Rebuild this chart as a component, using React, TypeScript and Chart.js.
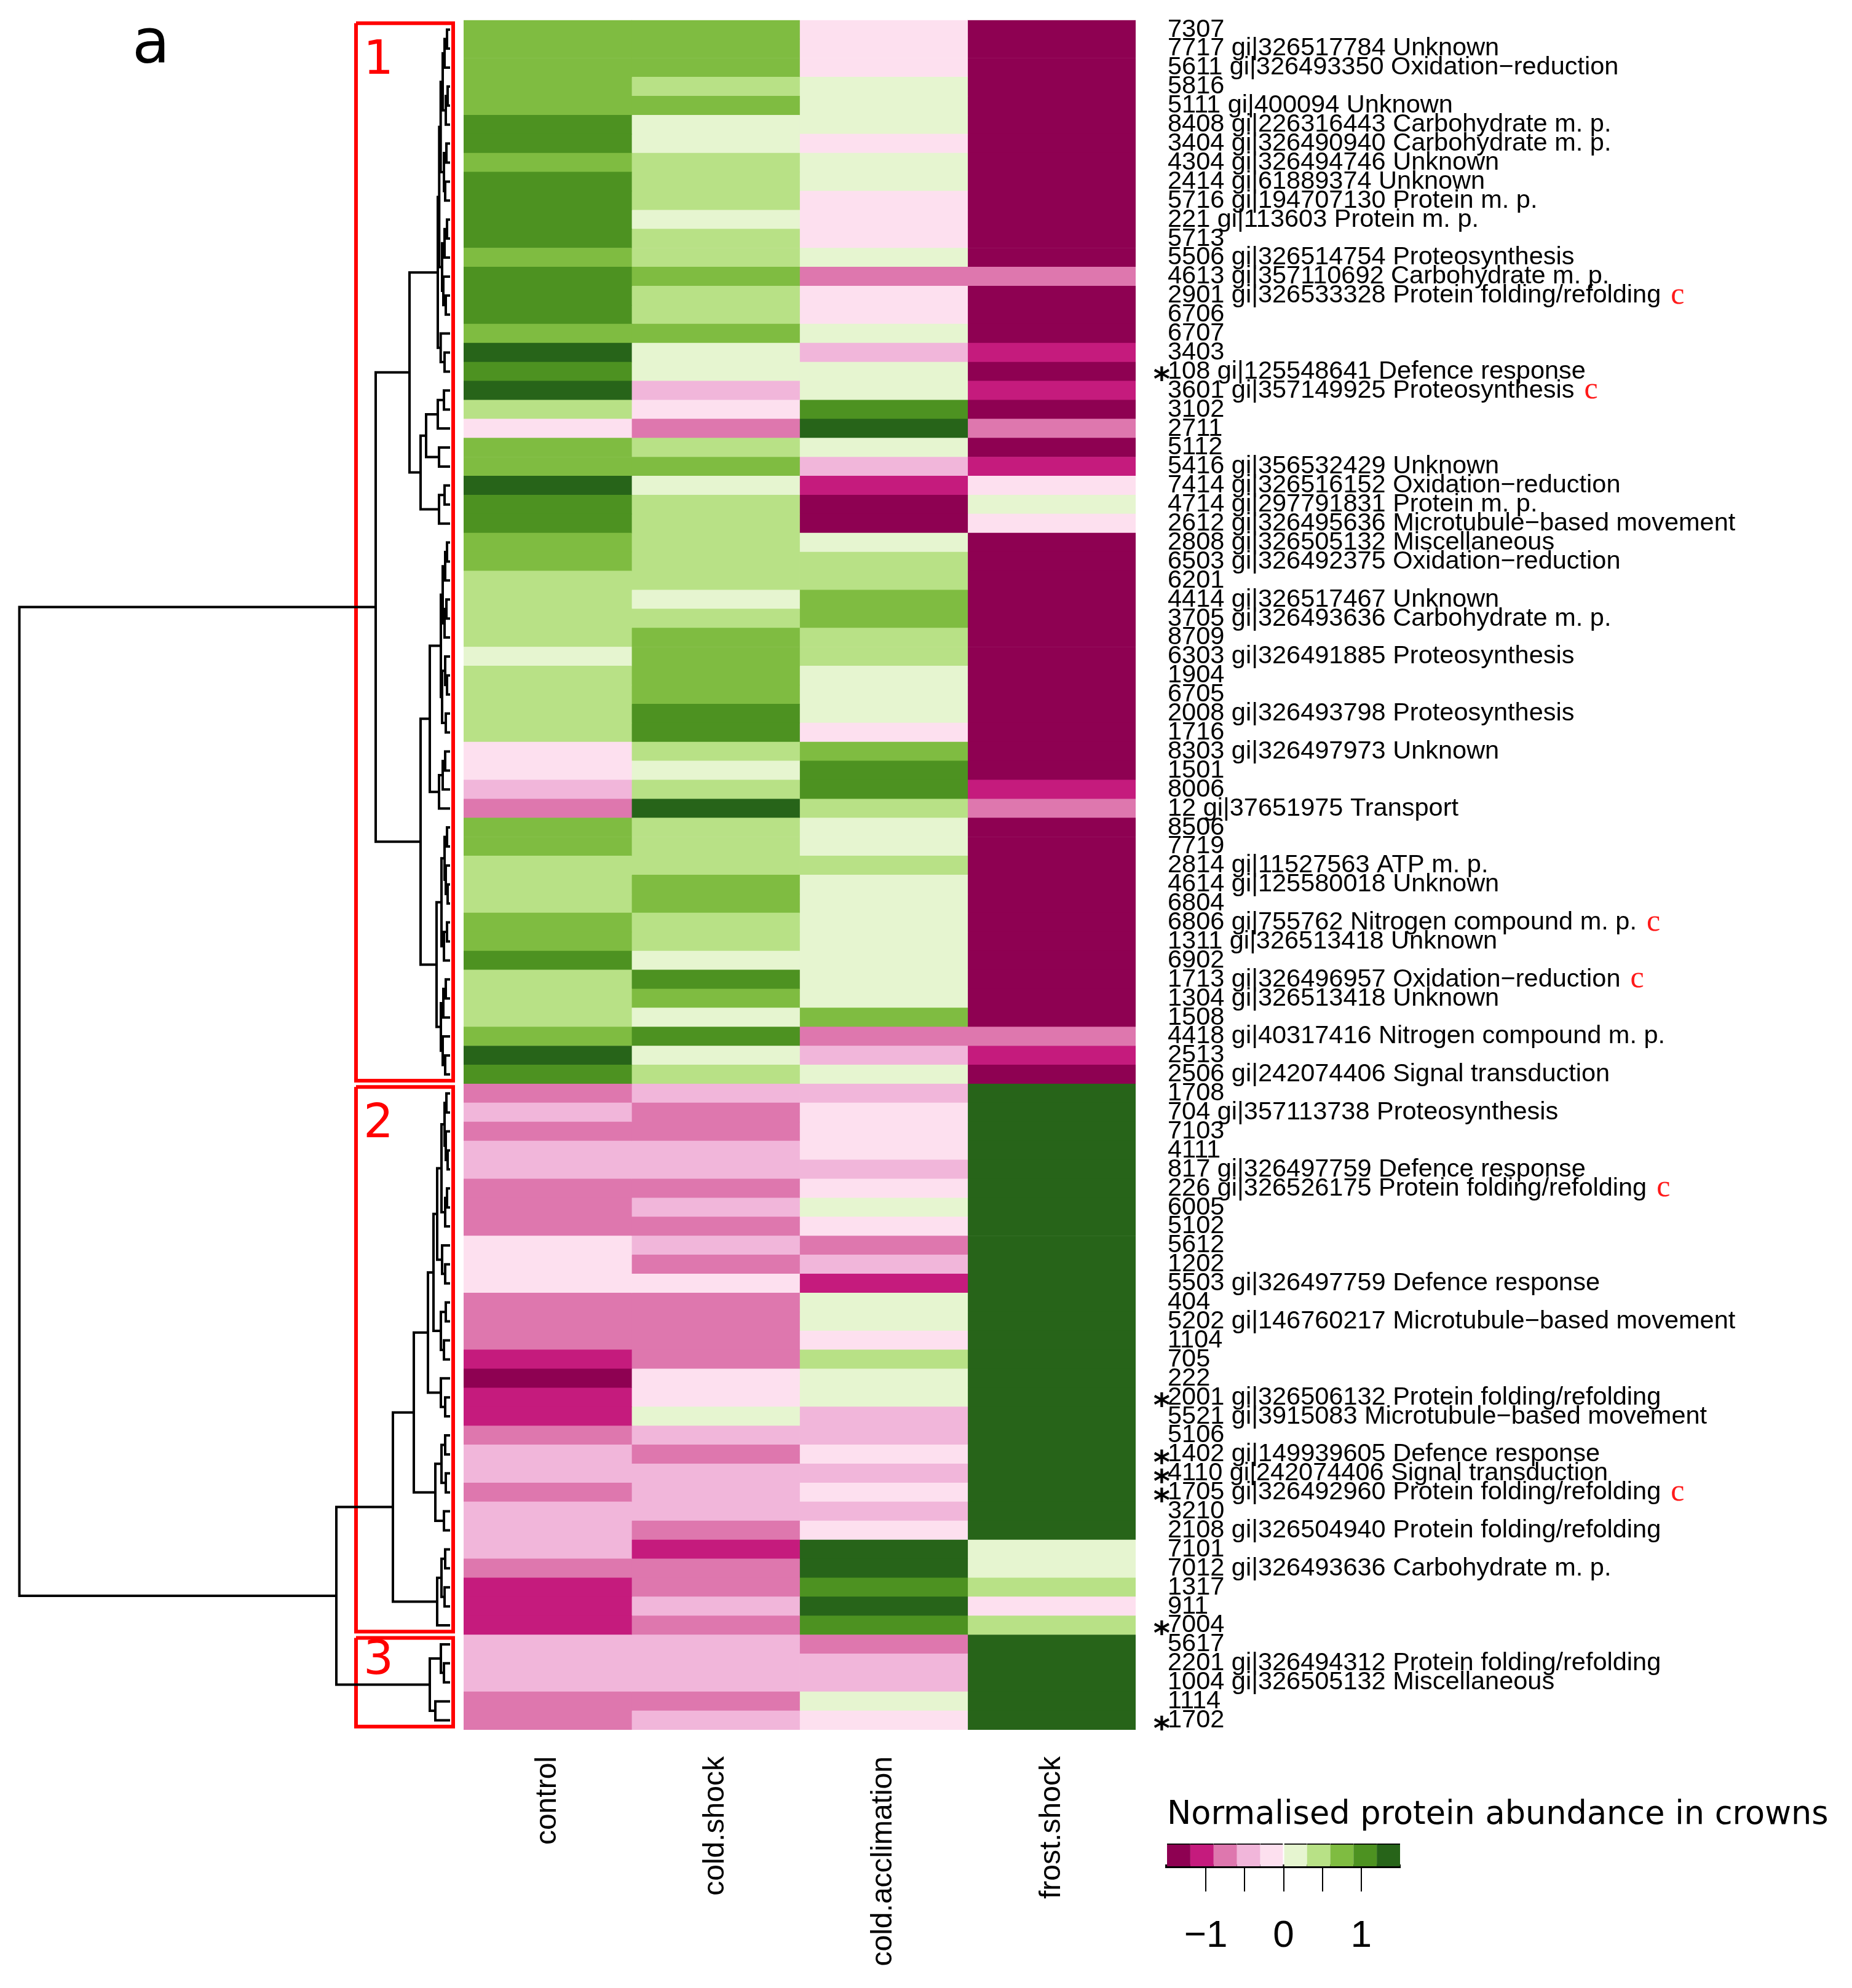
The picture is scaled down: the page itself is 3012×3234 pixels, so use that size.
import React, { useEffect, useRef } from 'react';
import { Chart, registerables } from 'chart.js';
Chart.register(...registerables);

// ---------------- data ----------------
const columns = ['control', 'cold.shock', 'cold.acclimation', 'frost.shock'];

const rowLabels = [
  '7307', '7717 gi|326517784 Unknown', '5611 gi|326493350 Oxidation\u2212reduction', '5816',
  '5111 gi|400094 Unknown', '8408 gi|226316443 Carbohydrate m. p.', '3404 gi|326490940 Carbohydrate m. p.',
  '4304 gi|326494746 Unknown', '2414 gi|61889374 Unknown', '5716 gi|194707130 Protein m. p.',
  '221 gi|113603 Protein m. p.', '5713', '5506 gi|326514754 Proteosynthesis',
  '4613 gi|357110692 Carbohydrate m. p.', '2901 gi|326533328 Protein folding/refolding', '6706', '6707',
  '3403', '108 gi|125548641 Defence response', '3601 gi|357149925 Proteosynthesis', '3102', '2711', '5112',
  '5416 gi|356532429 Unknown', '7414 gi|326516152 Oxidation\u2212reduction', '4714 gi|297791831 Protein m. p.',
  '2612 gi|326495636 Microtubule\u2212based movement', '2808 gi|326505132 Miscellaneous',
  '6503 gi|326492375 Oxidation\u2212reduction', '6201', '4414 gi|326517467 Unknown',
  '3705 gi|326493636 Carbohydrate m. p.', '8709', '6303 gi|326491885 Proteosynthesis', '1904', '6705',
  '2008 gi|326493798 Proteosynthesis', '1716', '8303 gi|326497973 Unknown', '1501', '8006',
  '12 gi|37651975 Transport', '8506', '7719', '2814 gi|11527563 ATP m. p.', '4614 gi|125580018 Unknown',
  '6804', '6806 gi|755762 Nitrogen compound m. p.', '1311 gi|326513418 Unknown', '6902',
  '1713 gi|326496957 Oxidation\u2212reduction', '1304 gi|326513418 Unknown', '1508',
  '4418 gi|40317416 Nitrogen compound m. p.', '2513', '2506 gi|242074406 Signal transduction', '1708',
  '704 gi|357113738 Proteosynthesis', '7103', '4111', '817 gi|326497759 Defence response',
  '226 gi|326526175 Protein folding/refolding', '6005', '5102', '5612', '1202',
  '5503 gi|326497759 Defence response', '404', '5202 gi|146760217 Microtubule\u2212based movement', '1104',
  '705', '222', '2001 gi|326506132 Protein folding/refolding', '5521 gi|3915083 Microtubule\u2212based movement',
  '5106', '1402 gi|149939605 Defence response', '4110 gi|242074406 Signal transduction',
  '1705 gi|326492960 Protein folding/refolding', '3210', '2108 gi|326504940 Protein folding/refolding', '7101',
  '7012 gi|326493636 Carbohydrate m. p.', '1317', '911', '7004', '5617',
  '2201 gi|326494312 Protein folding/refolding', '1004 gi|326505132 Miscellaneous', '1114', '1702',
];

const control = [
  0.75, 0.75, 0.75, 0.75, 0.75, 1.05, 1.05, 0.75, 1.05, 1.05,
  1.05, 1.05, 0.75, 1.05, 1.05, 1.05, 0.75, 1.35, 1.05, 1.35,
  0.45, -0.15, 0.75, 0.75, 1.35, 1.05, 1.05, 0.75, 0.75, 0.45,
  0.45, 0.45, 0.45, 0.15, 0.45, 0.45, 0.45, 0.45, -0.15, -0.15,
  -0.45, -0.75, 0.75, 0.75, 0.45, 0.45, 0.45, 0.75, 0.75, 1.05,
  0.45, 0.45, 0.45, 0.75, 1.35, 1.05, -0.75, -0.45, -0.75, -0.45,
  -0.45, -0.75, -0.75, -0.75, -0.15, -0.15, -0.15, -0.75, -0.75, -0.75,
  -1.05, -1.35, -1.05, -1.05, -0.75, -0.45, -0.45, -0.75, -0.45, -0.45,
  -0.45, -0.75, -1.05, -1.05, -1.05, -0.45, -0.45, -0.45, -0.75, -0.75,
];
const coldShock = [
  0.75, 0.75, 0.75, 0.45, 0.75, 0.15, 0.15, 0.45, 0.45, 0.45,
  0.15, 0.45, 0.45, 0.75, 0.45, 0.45, 0.75, 0.15, 0.15, -0.45,
  -0.15, -0.75, 0.45, 0.75, 0.15, 0.45, 0.45, 0.45, 0.45, 0.45,
  0.15, 0.45, 0.75, 0.75, 0.75, 0.75, 1.05, 1.05, 0.45, 0.15,
  0.45, 1.35, 0.45, 0.45, 0.45, 0.75, 0.75, 0.45, 0.45, 0.15,
  1.05, 0.75, 0.15, 1.05, 0.15, 0.45, -0.45, -0.75, -0.75, -0.45,
  -0.45, -0.75, -0.45, -0.75, -0.45, -0.75, -0.15, -0.75, -0.75, -0.75,
  -0.75, -0.15, -0.15, 0.15, -0.45, -0.75, -0.45, -0.45, -0.45, -0.75,
  -1.05, -0.75, -0.75, -0.45, -0.75, -0.45, -0.45, -0.45, -0.75, -0.45,
];
const coldAcclimation = [
  -0.15, -0.15, -0.15, 0.15, 0.15, 0.15, -0.15, 0.15, 0.15, -0.15,
  -0.15, -0.15, 0.15, -0.75, -0.15, -0.15, 0.15, -0.45, 0.15, 0.15,
  1.05, 1.35, 0.15, -0.45, -1.05, -1.35, -1.35, 0.15, 0.45, 0.45,
  0.75, 0.75, 0.45, 0.45, 0.15, 0.15, 0.15, -0.15, 0.75, 1.05,
  1.05, 0.45, 0.15, 0.15, 0.45, 0.15, 0.15, 0.15, 0.15, 0.15,
  0.15, 0.15, 0.75, -0.75, -0.45, 0.15, -0.45, -0.15, -0.15, -0.15,
  -0.45, -0.15, 0.15, -0.15, -0.75, -0.45, -1.05, 0.15, 0.15, -0.15,
  0.45, 0.15, 0.15, -0.45, -0.45, -0.15, -0.45, -0.15, -0.45, -0.15,
  1.35, 1.35, 1.05, 1.35, 1.05, -0.75, -0.45, -0.45, 0.15, -0.15,
];
const frostShock = [
  -1.35, -1.35, -1.35, -1.35, -1.35, -1.35, -1.35, -1.35, -1.35, -1.35,
  -1.35, -1.35, -1.35, -0.75, -1.35, -1.35, -1.35, -1.05, -1.35, -1.05,
  -1.35, -0.75, -1.35, -1.05, -0.15, 0.15, -0.15, -1.35, -1.35, -1.35,
  -1.35, -1.35, -1.35, -1.35, -1.35, -1.35, -1.35, -1.35, -1.35, -1.35,
  -1.05, -0.75, -1.35, -1.35, -1.35, -1.35, -1.35, -1.35, -1.35, -1.35,
  -1.35, -1.35, -1.35, -0.75, -1.05, -1.35, 1.35, 1.35, 1.35, 1.35,
  1.35, 1.35, 1.35, 1.35, 1.35, 1.35, 1.35, 1.35, 1.35, 1.35,
  1.35, 1.35, 1.35, 1.35, 1.35, 1.35, 1.35, 1.35, 1.35, 1.35,
  0.15, 0.15, 0.45, -0.15, 0.45, 1.35, 1.35, 1.35, 1.35, 1.35,
];

const palette = ['#8E0152', '#C51B7D', '#DE77AE', '#F1B6DA', '#FDE0EF', '#E6F5D0', '#B8E186', '#7FBC41', '#4D9221', '#276419'];
const breaks = [-1.5, -1.2, -0.9, -0.6, -0.3, 0, 0.3, 0.6, 0.9, 1.2, 1.5];
const legendTicks = [-1, -0.5, 0, 0.5, 1];
const legendTickLabels = ['\u22121', '', '0', '', '1'];
const legendTitle = 'Normalised protein abundance in crowns';

const starredIds = ['108', '2001', '1402', '4110', '1705', '7004', '1702'];
const coldMarkedIds = ['2901', '3601', '6806', '1713', '226', '1705'];

const clusters = [
  { name: '1', first: 0, last: 55 },
  { name: '2', first: 56, last: 84 },
  { name: '3', first: 85, last: 89 },
];

type TreeNode = number | [number, TreeNode, TreeNode];
const tree: TreeNode = [6.985,
  [1.19,
    [0.64,
      [0.18,
        [0.157,
          [0.133,
            [0.10, [0.07, [0.03, 0, 1], 2], [0.05, [0.02, 3, 4], 5]],
            [0.08, [0.04, 6, 7], [0.06, 8, 9]]],
          [0.11,
            [0.07, [0.03, 10, 11], 12],
            [0.09, 13, [0.05, 14, 15]]]],
        [0.133, 16, [0.07, 17, 18]]],
      [0.46,
        [0.37,
          [0.18, [0.08, 19, 20], 21],
          [0.16, 22, 23]],
        [0.16, [0.07, 24, 25], 26]]],
    [0.46,
      [0.31,
        [0.13,
          [0.10, [0.06, [0.03, 27, 28], 29], [0.07, [0.04, 30, 31], 32]],
          [0.11, [0.06, 33, [0.03, 34, 35]], [0.05, 36, 37]]],
        [0.16, [0.10, [0.06, 38, 39], 40], 41]],
      [0.20,
        [0.12,
          [0.07, [0.03, 42, 43], [0.05, 44, [0.02, 45, 46]]],
          [0.08, [0.03, 47, 48], 49]],
        [0.13, [0.09, [0.05, 50, 51], 52], [0.10, 53, [0.06, 54, 55]]]]]],
  [1.83,
    [0.91,
      [0.57,
        [0.34,
          [0.25,
            [0.19,
              [0.12, [0.07, [0.04, 56, 57], [0.05, 58, [0.02, 59, 60]]], [0.06, [0.03, 61, 62], 63]],
              [0.11, 64, [0.06, 65, 66]]],
            [0.13, [0.05, 67, 68], [0.08, 69, 70]]],
          [0.13, 71, [0.06, 72, 73]]],
        [0.22, [0.12, [0.06, 74, 75], [0.05, 76, 77]], [0.08, 78, 79]]],
      [0.19, [0.12, [0.06, 80, 81], [0.07, 82, 83]], 84]],
    [0.31, [0.13, 85, [0.08, 86, 87]], [0.22, 88, 89]]]];

// ---------------- layout (page pixels) ----------------
const PAGE_W = 3012;
const PAGE_H = 3234;
const HEAT_LEFT = 754;
const HEAT_RIGHT = 1847;
const HEAT_TOP = 32.7;
const HEAT_BOTTOM = 2814;
const DENDRO_W = 760;
const LEG = { left: 1860, top: 2880, width: 1152, height: 354 };

const SANS = '"Liberation Sans", Arial, sans-serif';
const DEJAVU = '"DejaVu Sans", sans-serif';

const valuesByColumn = [control, coldShock, coldAcclimation, frostShock];

function colorFor(v: number) {
  for (let i = 0; i < palette.length; i++) {
    if (v >= breaks[i] && v < breaks[i + 1]) return palette[i];
  }
  return v < breaks[0] ? palette[0] : palette[palette.length - 1];
}

function collectHeights(node: TreeNode, out: number[]) {
  if (typeof node === 'number') return;
  out.push(node[0]);
  collectHeights(node[1], out);
  collectHeights(node[2], out);
}

function layoutTree(node: TreeNode, pts: any[]): { y: number; h: number } {
  if (typeof node === 'number') return { y: node, h: 0 };
  const [h, l, r] = node;
  const a = layoutTree(l, pts);
  const b = layoutTree(r, pts);
  pts.push({ x: a.h, y: a.y }, { x: h, y: a.y }, { x: h, y: b.y }, { x: b.h, y: b.y }, { x: null, y: null });
  return { y: (a.y + b.y) / 2, h };
}

function idOf(label: string) {
  return label.split(' ')[0];
}

// ---------------- charts ----------------
function Heatmap() {
  const ref = useRef<HTMLCanvasElement | null>(null);
  useEffect(() => {
    const marks = {
      id: 'rowMarks',
      afterDraw(chart: any) {
        const ctx = chart.ctx;
        const ys = chart.scales.y;
        const x0 = chart.chartArea.right + 52;
        ctx.save();
        rowLabels.forEach((lab, i) => {
          const id = idOf(lab);
          const y = ys.getPixelForValue(i);
          if (starredIds.includes(id)) {
            ctx.font = 'bold 52px ' + DEJAVU;
            ctx.fillStyle = '#000';
            ctx.textAlign = 'right';
            ctx.textBaseline = 'alphabetic';
            ctx.fillText('*', x0 + 4, y + 30);
          }
          if (coldMarkedIds.includes(id)) {
            ctx.font = '41.5px ' + SANS;
            const w = ctx.measureText(lab).width;
            ctx.font = '50px "Liberation Serif", serif';
            ctx.fillStyle = '#ff1a1a';
            ctx.textAlign = 'left';
            ctx.textBaseline = 'middle';
            ctx.fillText('c', x0 + w + 16, y);
          }
        });
        ctx.restore();
      },
    };
    const chart = new Chart(ref.current as HTMLCanvasElement, {
      type: 'bar',
      data: {
        labels: rowLabels,
        datasets: columns.map((c, ci) => ({
          label: c,
          data: rowLabels.map(() => [ci, ci + 1]),
          backgroundColor: valuesByColumn[ci].map(colorFor),
          borderWidth: 0,
          barPercentage: 1,
          categoryPercentage: 1,
          grouped: false,
        })) as any,
      },
      options: {
        indexAxis: 'y',
        animation: false,
        responsive: false,
        maintainAspectRatio: false,
        layout: { padding: { left: HEAT_LEFT, top: HEAT_TOP, right: 0, bottom: 0 } },
        plugins: { legend: { display: false }, tooltip: { enabled: false }, title: { display: false } },
        scales: {
          x: {
            type: 'linear',
            position: 'bottom',
            min: 0,
            max: columns.length,
            grid: { display: false, drawTicks: true, tickLength: 43 },
            border: { display: false },
            afterBuildTicks: (s: any) => {
              s.ticks = columns.map((_, i) => ({ value: i + 0.5 }));
            },
            afterFit: (s: any) => {
              s.height = PAGE_H - HEAT_BOTTOM;
            },
            ticks: {
              autoSkip: false,
              minRotation: 90,
              maxRotation: 90,
              padding: 0,
              color: '#000',
              font: { family: SANS, size: 48 },
              callback: (v: any) => columns[Math.floor(Number(v))],
            },
          },
          y: {
            type: 'category',
            position: 'right',
            grid: { display: false, drawTicks: true, tickLength: 52 },
            border: { display: false },
            afterFit: (s: any) => {
              s.width = PAGE_W - HEAT_RIGHT;
            },
            ticks: {
              autoSkip: false,
              padding: 0,
              color: '#000',
              font: { family: SANS, size: 41.5 },
            },
          },
        },
      } as any,
      plugins: [marks],
    });
    return () => chart.destroy();
  }, []);
  return (
    <canvas
      ref={ref}
      width={PAGE_W}
      height={PAGE_H}
      style={{ position: 'absolute', left: 0, top: 0, width: PAGE_W, height: PAGE_H }}
    />
  );
}

function Dendrogram() {
  const ref = useRef<HTMLCanvasElement | null>(null);
  useEffect(() => {
    const pts: any[] = [];
    layoutTree(tree, pts);
    const heights: number[] = [];
    collectHeights(tree, heights);
    heights.sort((a, b) => b - a);
    const k = clusters.length;
    const cutHeight = (heights[k - 2] + heights[k - 1]) / 2;
    const boxRight = -0.07;
    const boxes = clusters.map((c) => {
      const top = c.first - 0.34;
      const bot = c.last + 0.33;
      return {
        data: [
          { x: cutHeight, y: top }, { x: boxRight, y: top }, { x: boxRight, y: bot },
          { x: cutHeight, y: bot }, { x: cutHeight, y: top },
        ],
        showLine: true,
        borderColor: '#ff0000',
        borderWidth: 6,
        borderJoinStyle: 'miter',
        pointRadius: 0,
        clip: false,
      };
    });
    const texts = {
      id: 'dendroTexts',
      afterDraw(chart: any) {
        const { ctx } = chart;
        const xs = chart.scales.x;
        const ys = chart.scales.y;
        ctx.save();
        ctx.fillStyle = '#000';
        ctx.font = '100px ' + DEJAVU;
        ctx.textAlign = 'left';
        ctx.textBaseline = 'alphabetic';
        ctx.fillText('a', 215, 102);
        ctx.fillStyle = '#ff0000';
        ctx.font = '77px ' + DEJAVU;
        clusters.forEach((c) => {
          const top = ys.getPixelForValue(c.first - 0.34);
          const bot = ys.getPixelForValue(c.last + 0.33);
          ctx.fillText(c.name, xs.getPixelForValue(cutHeight) + 12, Math.min(top + 82, bot - 86));
        });
        ctx.restore();
      },
    };
    const chart = new Chart(ref.current as HTMLCanvasElement, {
      type: 'scatter',
      data: {
        datasets: [
          {
            data: pts,
            showLine: true,
            borderColor: '#000',
            borderWidth: 4,
            borderJoinStyle: 'miter',
            borderCapStyle: 'square',
            pointRadius: 0,
            spanGaps: false,
            clip: false,
          },
          ...boxes,
        ] as any,
      },
      options: {
        animation: false,
        responsive: false,
        maintainAspectRatio: false,
        layout: { padding: { left: 0, right: 0, top: HEAT_TOP, bottom: PAGE_H - HEAT_BOTTOM } },
        plugins: { legend: { display: false }, tooltip: { enabled: false } },
        scales: {
          x: { type: 'linear', display: false, min: -0.3, max: 7.3, reverse: true },
          y: { type: 'linear', display: false, min: -0.5, max: rowLabels.length - 0.5, reverse: true },
        },
      } as any,
      plugins: [texts],
    });
    return () => chart.destroy();
  }, []);
  return (
    <canvas
      ref={ref}
      width={DENDRO_W}
      height={PAGE_H}
      style={{ position: 'absolute', left: 0, top: 0, width: DENDRO_W, height: PAGE_H }}
    />
  );
}

function ColorKey() {
  const ref = useRef<HTMLCanvasElement | null>(null);
  useEffect(() => {
    const chart = new Chart(ref.current as HTMLCanvasElement, {
      type: 'bar',
      data: {
        labels: [''],
        datasets: palette.map((col, i) => ({
          data: [[breaks[i], breaks[i + 1]]],
          backgroundColor: col,
          borderColor: '#000',
          borderWidth: { top: 2, left: 0, right: 0, bottom: 0 },
          borderSkipped: false,
          barPercentage: 1,
          categoryPercentage: 1,
          grouped: false,
        })) as any,
      },
      options: {
        indexAxis: 'y',
        animation: false,
        responsive: false,
        maintainAspectRatio: false,
        layout: { padding: { left: 38, right: 0, top: 0, bottom: 0 } },
        plugins: {
          legend: { display: false },
          tooltip: { enabled: false },
          title: {
            display: true,
            text: legendTitle,
            align: 'start',
            color: '#000',
            font: { family: DEJAVU, size: 52.5, weight: 'normal' },
            padding: { top: 42, bottom: 14 },
          },
        },
        scales: {
          x: {
            type: 'linear',
            position: 'bottom',
            min: breaks[0],
            max: breaks[breaks.length - 1],
            afterBuildTicks: (s: any) => {
              s.ticks = legendTicks.map((v) => ({ value: v }));
            },
            afterFit: (s: any) => {
              s.height = 198;
            },
            grid: { display: true, drawOnChartArea: false, drawTicks: true, tickLength: 41, color: '#000', lineWidth: 2 },
            border: { display: true, color: '#000', width: 6 },
            ticks: {
              autoSkip: false,
              maxRotation: 0,
              padding: 36,
              color: '#000',
              font: { family: SANS, size: 62 },
              callback: (_v: any, i: number) => legendTickLabels[i],
            },
          },
          y: {
            type: 'category',
            position: 'right',
            grid: { display: false, drawTicks: false },
            border: { display: false },
            ticks: { display: false },
            afterFit: (s: any) => {
              s.width = 735;
            },
          },
        },
      } as any,
    });
    return () => chart.destroy();
  }, []);
  return (
    <canvas
      ref={ref}
      width={LEG.width}
      height={LEG.height}
      style={{ position: 'absolute', left: LEG.left, top: LEG.top, width: LEG.width, height: LEG.height }}
    />
  );
}

export default function App() {
  return (
    <div style={{ position: 'absolute', left: 0, top: 0, width: PAGE_W, height: PAGE_H, background: '#fff' }}>
      <Heatmap />
      <Dendrogram />
      <ColorKey />
    </div>
  );
}
